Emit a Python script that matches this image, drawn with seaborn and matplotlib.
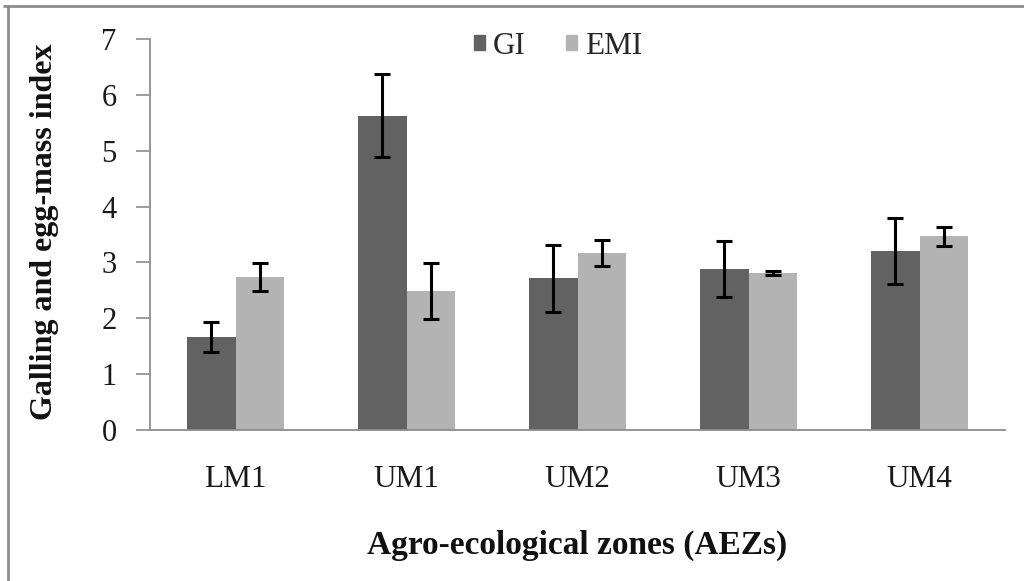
import matplotlib
matplotlib.use("Agg")
import matplotlib.pyplot as plt
from matplotlib.lines import Line2D
import seaborn as sns
import pandas as pd

zones = ["LM1", "UM1", "UM2", "UM3", "UM4"]
gi_values = [1.66, 5.63, 2.72, 2.88, 3.20]
gi_errors = [0.27, 0.75, 0.60, 0.50, 0.59]
emi_values = [2.74, 2.49, 3.17, 2.81, 3.47]
emi_errors = [0.25, 0.50, 0.23, 0.04, 0.17]
series_names = ["GI", "EMI"]
y_ticks = [0, 1, 2, 3, 4, 5, 6, 7]

df = pd.DataFrame({
    "zone": zones * 2,
    "value": gi_values + emi_values,
    "index": [series_names[0]] * len(zones) + [series_names[1]] * len(zones),
})

sns.set_theme(style="white")
plt.rcParams["font.family"] = ["Liberation Serif", "DejaVu Serif"]

fig = plt.figure(figsize=(10.24, 5.81), dpi=100)
ax = fig.add_axes([150 / 1024, 1 - 430 / 581, 855 / 1024, 391 / 581])

palette = {"GI": "#626262", "EMI": "#b3b3b3"}
sns.barplot(data=df, x="zone", y="value", hue="index", palette=palette,
            width=0.565, gap=0, errorbar=None, saturation=1, ax=ax,
            linewidth=0)

# error bars at each bar's centre
for container, vals, errs in zip(ax.containers, [gi_values, emi_values],
                                 [gi_errors, emi_errors]):
    xs = [p.get_x() + p.get_width() / 2 for p in container]
    ax.errorbar(xs, vals, yerr=errs, fmt="none", ecolor="black",
                elinewidth=2.2, capsize=5.5, capthick=2.2, zorder=5)

ax.set_ylim(0, 7)
ax.set_yticks(y_ticks)
ax.set_xlim(-0.5, len(zones) - 0.5)
ax.set_xlabel("")
ax.set_ylabel("")

for side in ["top", "right"]:
    ax.spines[side].set_visible(False)
for side in ["left", "bottom"]:
    ax.spines[side].set_color("#8c8c8c")
    ax.spines[side].set_linewidth(1.3)

ax.tick_params(axis="y", left=True, length=10, width=1.2, color="#8c8c8c",
               labelsize=22, pad=14, labelcolor="#1a1a1a")
ax.tick_params(axis="x", bottom=False, length=0, labelsize=22.5, pad=25,
               labelcolor="#1a1a1a")

leg = ax.get_legend()
if leg is not None:
    leg.remove()
handles = [plt.Rectangle((0, 0), 1, 1, color=palette[n]) for n in series_names]
fig.legend(handles, series_names, loc="center", ncol=2, frameon=False,
           bbox_to_anchor=(558 / 1024, 1 - 46 / 581), fontsize=22.5,
           handlelength=0.35, handleheight=0.35, handletextpad=0.25,
           columnspacing=1.3)

fig.text(45 / 1024, 1 - 232 / 581, "Galling and egg-mass index",
         rotation=90, ha="center", va="center", fontsize=23,
         fontweight="bold", color="#111111")
fig.text(577 / 1024, 1 - 545 / 581, "Agro-ecological zones (AEZs)",
         ha="center", va="center", fontsize=24, fontweight="bold",
         color="#111111")

# outer chart frame (top and left edges)
fig.add_artist(Line2D([4 / 1024, 1], [1 - 6 / 581, 1 - 6 / 581],
                      transform=fig.transFigure, color="#8c8c8c", lw=2))
fig.add_artist(Line2D([8 / 1024, 8 / 1024], [0, 1 - 6 / 581],
                      transform=fig.transFigure, color="#8c8c8c", lw=2))

fig.savefig("out.png", dpi=100)
